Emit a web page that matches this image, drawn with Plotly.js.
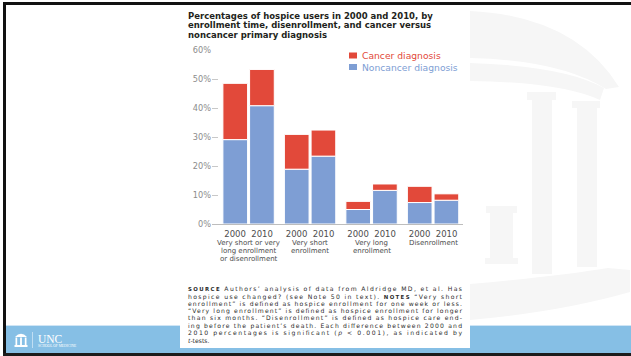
<!DOCTYPE html>
<html>
<head>
<meta charset="utf-8">
<script src="https://cdn.plot.ly/plotly-3.0.1.min.js"></script>
<style>
  html, body { margin:0; padding:0; background:#fff; }
  #chart { width:631px; height:356px; }
</style>
</head>
<body>
<div id="chart"></div>
<script>
// ---------------- DATA ----------------
const groups = ['Very short or very long enrollment or disenrollment', 'Very short enrollment', 'Very long enrollment', 'Disenrollment'];
const groupLabelLines = [
  ['Very short or very', 'long enrollment', 'or disenrollment'],
  ['Very short', 'enrollment'],
  ['Very long', 'enrollment'],
  ['Disenrollment']
];
const years = ['2000', '2010'];
const noncancer2000 = [29.1, 18.9, 5.0, 7.4];
const cancer2000    = [19.4, 12.0, 2.8, 5.6];
const noncancer2010 = [40.8, 23.4, 11.6, 8.2];
const cancer2010    = [12.5, 9.0, 2.2, 2.2];
const seriesNames = ['Cancer diagnosis', 'Noncancer diagnosis'];
const yTicks = [0, 10, 20, 30, 40, 50, 60];

const titleLines = [
  'Percentages of hospice users in 2000 and 2010, by',
  'enrollment time, disenrollment, and cancer versus',
  'noncancer primary diagnosis'
];
const sourceLines = [
  '<b><span style="font-size:5.4px">SOURCE</span></b> Authors’ analysis of data from Aldridge MD, et al. Has',
  'hospice use changed? (see Note 50 in text). <b><span style="font-size:5.4px">NOTES</span></b> “Very short',
  'enrollment” is defined as hospice enrollment for one week or less.',
  '“Very long enrollment” is defined as hospice enrollment for longer',
  'than six months. “Disenrollment” is defined as hospice care end-',
  'ing before the patient’s death. Each difference between 2000 and',
  '2010 percentages is significant (<i>p</i> &lt; 0.001), as indicated by',
  '<i>t</i>-tests.'
];

// ---------------- STYLE ----------------
const RED = '#e2493a';
const BLUE = '#7e9ed4';
const FONT = 'DejaVu Sans, Verdana, sans-serif';
const W = 631, H = 356, ML = 212, MR = 168, MT = 50, MB = 132;
const PW = W - ML - MR, PH = H - MT - MB;
const P = px => (px - ML) / PW;
const Q = py => (H - MB - py) / PH;

function rect(x0, y0, x1, y1, color) {
  return {type:'rect', xref:'paper', yref:'paper', x0:P(x0), x1:P(x1), y0:Q(y1), y1:Q(y0),
          fillcolor:color, line:{width:0}, layer:'below'};
}
function pathPx(d, color) {
  const conv = d.replace(/(-?\d+(?:\.\d+)?),(-?\d+(?:\.\d+)?)/g, (m, a, b) => P(+a) + ',' + Q(+b));
  return {type:'path', xref:'paper', yref:'paper', path:conv, fillcolor:color, line:{width:0}, layer:'below'};
}

const WM = '#f6f6f6';
const shapes = [
  // watermark (Old Well)
  pathPx('M470,11 Q575,16 619,87 L606,89 Q560,60 470,58 Z', WM),
  pathPx('M470,63 Q565,66 604,88 L600,100 Q560,82 470,81 Z', WM),
  rect(527, 92, 556, 100, WM), rect(532, 100, 552, 274, WM),
  rect(572, 101, 600, 108, WM), rect(577, 108, 597, 267, WM),
  rect(486, 206, 517, 213, WM), rect(490, 213, 513, 262, WM), rect(485, 258, 518, 264, WM),
  pathPx('M470,284 Q560,276 608,268 L630,270 L630,292 Q560,312 470,320 Z', WM),
  // slide frame
  rect(3, 2, 631, 5, '#111111'),
  rect(3, 2, 6, 356, '#111111'),
  rect(6, 325, 631, 353, '#86bfe5'),
  rect(6, 325, 631, 326, '#cfe5f5'),
  rect(3, 353, 631, 356, '#1c1c1c'),
  // chart panel
  rect(180, 6, 470, 348, '#ffffff'),
  // UNC logo in band
  pathPx('M15,337 Q21,330.5 27,337 Z', '#ffffff'),
  rect(15.5, 337.5, 17.2, 345, '#ffffff'), rect(20.1, 337.5, 21.9, 345, '#ffffff'), rect(24.8, 337.5, 26.5, 345, '#ffffff'),
  rect(14.5, 345, 27.5, 347, '#ffffff'),
  rect(32, 332, 32.6, 348, '#e8f3fb'),
  // legend swatches
  rect(349, 52.5, 357, 58.5, RED),
  rect(349, 64, 357, 70, BLUE)
];

const annotations = [];
function textAt(px, py, text, size, color, opts) {
  annotations.push(Object.assign({xref:'paper', yref:'paper', x:P(px), y:Q(py), xanchor:'left', yanchor:'middle',
    align:'left', showarrow:false, text:text, borderpad:0, font:{family:FONT, size:size, color:color}}, opts || {}));
  return annotations.length - 1;
}
titleLines.forEach((t, i) => textAt(187, 16 + i * 9.35, '<b>' + t + '</b>', 8.5, '#231f20'));
textAt(361, 55.5, seriesNames[0], 9.2, RED);
textAt(361, 67, seriesNames[1], 9.2, BLUE);
groupLabelLines.forEach((lines, gi) => {
  lines.forEach((ln, li) => {
    annotations.push({xref:'x', yref:'paper', x:groups[gi], y:Q(242.7 + li * 8.3), xanchor:'center', yanchor:'middle',
      showarrow:false, text:ln, borderpad:0, font:{family:FONT, size:7.0, color:'#4d4d4d'}});
  });
});
const justify = [];
sourceLines.forEach((t, i) => {
  const idx = textAt(186.5, 289.3 + i * 7.25, t, 6.1, '#2b2b2b');
  if (i < sourceLines.length - 1) justify.push(idx);
});
textAt(36.5, 338.5, 'UNC', 11.5, '#ffffff', {font:{family:'Liberation Serif, DejaVu Serif, serif', size:11.5, color:'#ffffff'}});
textAt(37, 345.6, 'SCHOOL OF MEDICINE', 3.6, '#ffffff', {font:{family:'Liberation Serif, DejaVu Serif, serif', size:3.6, color:'#ffffff'}});

const barLine = {color:'#ffffff', width:1};
const traces = [
  {type:'bar', name:seriesNames[1], x:groups, y:noncancer2000, offsetgroup:years[0], marker:{color:BLUE, line:barLine}, hoverinfo:'y'},
  {type:'bar', name:seriesNames[1], x:groups, y:noncancer2010, offsetgroup:years[1], marker:{color:BLUE, line:barLine}, hoverinfo:'y'},
  {type:'bar', name:seriesNames[0], x:groups, y:cancer2000, base:noncancer2000, offsetgroup:years[0], marker:{color:RED, line:barLine}, hoverinfo:'y'},
  {type:'bar', name:seriesNames[0], x:groups, y:cancer2010, base:noncancer2010, offsetgroup:years[1], marker:{color:RED, line:barLine}, hoverinfo:'y'}
];

const yearTick = years.join('\u00a0\u00a0');
const layout = {
  width:W, height:H,
  margin:{l:ML, r:MR, t:MT, b:MB, pad:0},
  paper_bgcolor:'#ffffff', plot_bgcolor:'rgba(0,0,0,0)',
  showlegend:false,
  barmode:'group', bargap:0.132, bargroupgap:0.075,
  xaxis:{type:'category', range:[-0.595, 3.487], showline:true, linecolor:'#bdbdbd', linewidth:1.2,
    ticks:'', tickvals:groups, ticktext:groups.map(() => yearTick), ticklabelstandoff:2,
    tickfont:{family:FONT, size:8.5, color:'#4d4d4d'}, showgrid:false, zeroline:false, fixedrange:true},
  yaxis:{range:[0, 60], tickvals:yTicks, ticktext:yTicks.map(v => v + '%'), ticks:'inside', ticklen:6,
    tickcolor:'#c8c8c8', tickwidth:1, showline:false, showgrid:false, zeroline:false,
    tickfont:{family:FONT, size:8.2, color:'#8c8c8c'}, fixedrange:true},
  shapes:shapes,
  annotations:annotations
};

Plotly.newPlot('chart', traces, layout, {displayModeBar:false, staticPlot:true}).then(gd => {
  gd.querySelectorAll('.annotation').forEach(g => {
    const idx = +g.getAttribute('data-index');
    if (justify.indexOf(idx) >= 0) {
      const t = g.querySelector('text.annotation-text');
      if (t) { t.setAttribute('textLength', 274); t.setAttribute('lengthAdjust', 'spacing'); }
    }
  });
});
</script>
</body>
</html>
